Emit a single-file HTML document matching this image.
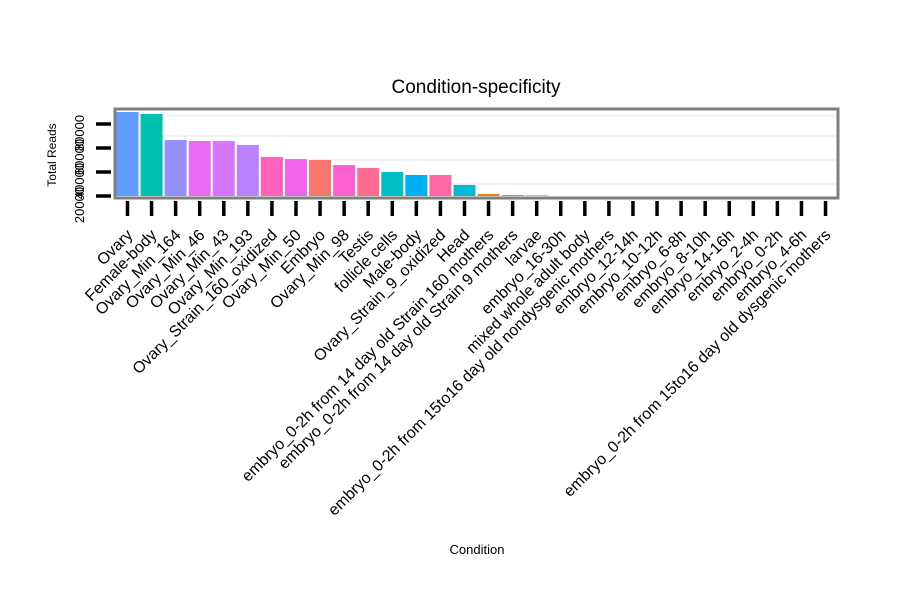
<!DOCTYPE html>
<html><head><meta charset="utf-8"><style>
body{margin:0;background:#fff;}
svg text{font-family:"Liberation Sans",sans-serif;}
</style></head><body>
<svg id="chart" width="900" height="600" xmlns="http://www.w3.org/2000/svg">
<rect width="900" height="600" fill="#fff"/>
<text x="476" y="93" font-size="19" text-anchor="middle">Condition-specificity</text>
<rect x="115" y="109" width="723" height="89" fill="#fff" stroke="#7f7f7f" stroke-width="3"/>
<g id="grid"></g>
<g id="bars"></g>
<g id="yaxis"></g>
<g id="xaxis"></g>
<text transform="translate(56,155) rotate(-90)" font-size="12" text-anchor="middle">Total Reads</text>
<text x="477" y="554" font-size="13" text-anchor="middle">Condition</text>
</svg>
<script>
const categories=["Ovary","Female-body","Ovary_Min_164","Ovary_Min_46","Ovary_Min_43","Ovary_Min_193","Ovary_Strain_160_oxidized","Ovary_Min_50","Embryo","Ovary_Min_98","Testis","follicle cells","Male-body","Ovary_Strain_9_oxidized","Head","embryo_0-2h from 14 day old Strain 160 mothers","embryo_0-2h from 14 day old Strain 9 mothers","larvae","embryo_16-30h","mixed whole adult body","embryo_0-2h from 15to16 day old nondysgenic mothers","embryo_12-14h","embryo_10-12h","embryo_6-8h","embryo_8-10h","embryo_14-16h","embryo_2-4h","embryo_0-2h","embryo_4-6h","embryo_0-2h from 15to16 day old dysgenic mothers"];
const values=[70000,68300,46700,45800,45800,42500,32500,30800,30000,25800,23300,20000,17500,17500,9200,1700,800,400,0,0,0,0,0,0,0,0,0,0,0,0];
const colors=["#619CFF","#00C0AF","#9590FF","#E76BF3","#D575FE","#B983FF","#FF62BC","#F066EA","#F8766D","#FD61D1","#FF6C91","#00BFC4","#00B0F6","#FF67A4","#00BCD8","#E58700","#D89000","#00A9FF","#39B600","#A3A500","#00BF7D","#C99800","#6BB100","#00BA38","#00C1A3","#00B81F","#8AAB00","#BB9D00","#9CA700","#00B0F6"];
const yTicks=[0,20000,40000,60000];
const yTickLabels=["20000","40000","60000","80000"];
const NS="http://www.w3.org/2000/svg";
const x0=127.5, step=24.07, base=196, pxPer=24/20000, bw=22;
function xs(i){return x0+i*step;}
function ys(v){return base-v*pxPer;}
function mk(t,a,p){const e=document.createElementNS(NS,t);for(const k in a)e.setAttribute(k,a[k]);p.appendChild(e);return e;}
const grid=document.getElementById('grid'),bars=document.getElementById('bars'),ya=document.getElementById('yaxis'),xa=document.getElementById('xaxis');
[10000,30000,50000,67000].forEach(v=>{const l=mk('line',{x1:117,x2:836,y1:ys(v),y2:ys(v),stroke:'#f2f2f2','stroke-width':2},grid);

});
values.forEach((v,i)=>{const h=v*pxPer;const r=mk('rect',{x:xs(i)-bw/2,y:base-h,width:bw,height:h,fill:colors[i]},bars);

});
yTicks.forEach((v,i)=>{const y=ys(v);const l=mk('line',{x1:96,x2:111,y1:y,y2:y,stroke:'#000','stroke-width':3.5},ya);


const t=mk('text',{transform:`translate(84,${y+9}) rotate(-90)`,'font-size':13,'text-anchor':'middle'},ya);
t.textContent=yTickLabels[i];

});
categories.forEach((c,i)=>{const x=xs(i);const l=mk('line',{x1:x,x2:x,y1:201,y2:216,stroke:'#000','stroke-width':3.5},xa);


const t=mk('text',{transform:`translate(${x+6},${236}) rotate(-45)`,'font-size':16,'text-anchor':'end'},xa);
t.textContent=c;

});
</script>
</body></html>
